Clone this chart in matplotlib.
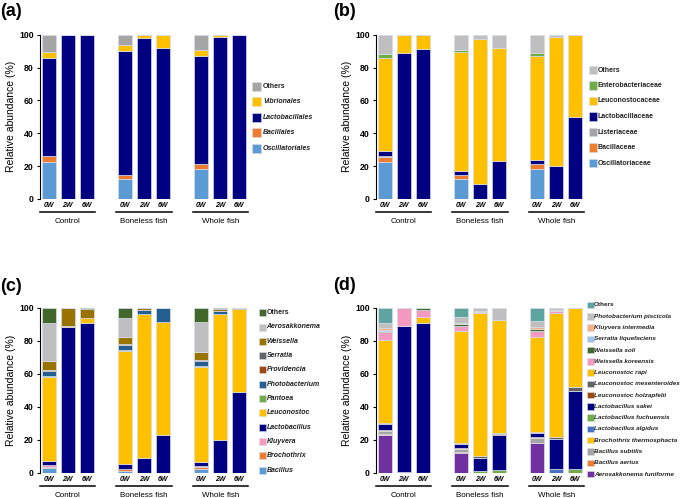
"""Stacked relative-abundance bars for four taxonomic levels (a)-(d)."""

import matplotlib
matplotlib.use("Agg")
import matplotlib.pyplot as plt
from matplotlib.patches import Rectangle

plt.rcParams["font.family"] = ["Liberation Sans", "DejaVu Sans"]

W, H = 685, 498

GROUPS = ["Control", "Boneless fish", "Whole fish"]
WEEKS = ["0W", "2W", "6W"]
# bar order: Control 0W/2W/6W, Boneless 0W/2W/6W, Whole 0W/2W/6W

# ---- (a) order ----
a_names = ["Oscillatoriales", "Bacillales", "Lactobacillales", "Vibrionales", "Others"]
a_colors = ["#5b9bd5", "#ed7d31", "#000080", "#ffc000", "#a5a5a5"]
a_osc = [22.7, 0, 0, 12.0, 0, 0, 18.0, 0, 0]
a_bac = [3.5, 0, 0, 2.6, 0, 0, 3.3, 0, 0]
a_lacto = [59.8, 100, 100, 75.3, 97.8, 91.9, 65.9, 98.6, 99.6]
a_vib = [3.5, 0, 0, 3.6, 2.2, 8.1, 3.5, 1.4, 0.4]
a_other = [10.5, 0, 0, 6.5, 0, 0, 9.3, 0, 0]

# ---- (b) family ----
b_names = ["Oscillatoriaceae", "Bacillaceae", "Listeriaceae", "Lactobacillaceae",
           "Leuconostocaceae", "Enterobacteriaceae", "Others"]
b_colors = ["#5b9bd5", "#ed7d31", "#a5a5a5", "#000080", "#ffc000", "#70ad47", "#bfbfbf"]
b_osc = [22.7, 0, 0, 12.0, 0, 0, 18.3, 0, 0]
b_bac = [3.1, 0, 0, 2.4, 0, 0, 2.8, 0, 0]
b_list = [0.6, 0, 0, 0.3, 0, 0, 0.4, 0, 0]
b_lacto = [2.8, 88.8, 91.1, 2.1, 8.9, 22.9, 2.4, 20.1, 49.7]
b_leuc = [56.8, 11.2, 8.9, 72.9, 88.5, 69.0, 63.3, 78.3, 50.3]
b_entero = [2.0, 0, 0, 1.2, 0, 0, 1.6, 0, 0]
b_other = [12.0, 0, 0, 9.1, 2.6, 8.1, 11.2, 1.6, 0]

# ---- (c) genus ----
c_names = ["Bacillus", "Brochothrix", "Kluyvera", "Lactobacillus", "Leuconostoc",
           "Pantoea", "Photobacterium", "Providencia", "Serratia", "Weissella",
           "Aerosakkonema", "Others"]
c_colors = ["#5b9bd5", "#ed7d31", "#f49ac1", "#000080", "#ffc000", "#70ad47",
            "#255e91", "#9e480e", "#636363", "#997300", "#bfbfbf", "#43682b"]
c_bacillus = [2.6, 0, 0, 1.0, 0, 0, 2.2, 0, 0]
c_broch = [1.0, 0, 0, 1.0, 0, 0, 1.0, 0, 0]
c_kluy = [0.8, 0, 0, 0.5, 0, 0, 1.0, 0, 0]
c_lacto = [2.7, 88.5, 90.5, 2.5, 8.7, 22.8, 2.1, 19.8, 49.1]
c_leuc = [51.2, 0.3, 3.0, 68.9, 87.5, 68.3, 57.9, 76.4, 49.9]
c_pant = [0.3, 0, 0, 0.2, 0, 0, 0.2, 0, 0]
c_photo = [3.0, 0, 0, 3.3, 2.4, 8.9, 3.3, 1.6, 0]
c_provi = [0.4, 0, 0, 0.3, 0, 0, 0.3, 0, 0]
c_serr = [0.5, 0, 0, 0.3, 0, 0, 0.4, 0, 0]
c_weis = [5.1, 11.2, 5.5, 4.0, 1.0, 0, 4.8, 1.4, 1.0]
c_aero = [23.0, 0, 0.5, 12.0, 0, 0, 18.4, 0, 0]
c_other = [9.4, 0, 0.5, 6.0, 0.4, 0, 8.4, 0.8, 0]

# ---- (d) species ----
d_names = ["Aerosakkonema funiforme", "Bacillus aerius", "Bacillus subtilis",
           "Brochothrix thermosphacta", "Lactobacillus algidus",
           "Lactobacillus fuchuensis", "Lactobacillus sakei",
           "Leuconostoc holzapfelii", "Leuconostoc mesenteroides", "Leuconostoc rapi",
           "Weissella koreensis", "Weissella soli", "Serratia liquefaciens",
           "Kluyvera intermedia", "Photobacterium piscicola", "Others"]
d_colors = ["#7030a0", "#ed7d31", "#a5a5a5", "#ffc000", "#4472c4", "#70ad47",
            "#000080", "#9e480e", "#636363", "#ffc000", "#f49ac1", "#43682b",
            "#9dc3e6", "#f4b183", "#bfbfbf", "#5fa59f"]
d_aero = [22.8, 0, 0, 12.1, 0, 0, 17.8, 0, 0]
d_baer = [0.4, 0, 0, 0.5, 0, 0, 0.4, 0, 0]
d_bsub = [2.3, 0, 0, 1.5, 0, 0, 2.6, 0, 0]
d_broch = [0.6, 0, 0, 0.6, 0, 0, 1.0, 0, 0]
d_lalg = [0, 0, 0, 0, 0, 0, 0, 2.0, 0]
d_lfuc = [0, 0.3, 0, 0, 0.8, 1.4, 0, 0.4, 2.0]
d_lsak = [3.2, 88.4, 90.9, 2.7, 8.1, 21.4, 2.4, 17.8, 47.3]
d_lhol = [0.4, 0, 0, 0.2, 0.3, 0.4, 0.3, 0.4, 0.4]
d_lmes = [0.3, 0, 0, 0.3, 1.1, 1.0, 0.3, 1.2, 2.0]
d_lrap = [50.4, 0.3, 3.2, 68.0, 86.7, 68.3, 57.6, 75.2, 47.9]
d_wkor = [4.9, 10.6, 4.5, 3.2, 0.6, 0, 3.5, 1.2, 0]
d_wsol = [0.8, 0.4, 1.0, 0.8, 0, 0, 1.0, 0, 0]
d_serr = [0.4, 0, 0, 0.3, 0, 0, 0.4, 0, 0.4]
d_kluy = [1.0, 0, 0, 0.7, 0.5, 0, 1.2, 0.4, 0]
d_ppis = [3.4, 0, 0, 3.2, 1.9, 7.5, 3.4, 1.4, 0]
d_other = [9.1, 0, 0.4, 5.9, 0, 0, 8.1, 0, 0]

POS = [0, 1, 2, 4, 5, 6, 8, 9, 10]


def frac(x, y, w=0, h=0):
    """pixel box (top-left origin) -> figure fraction rect"""
    return [x / W, 1 - (y + h) / H, w / W, h / H]


def stacked(ax, layers, colors):
    bottom = [0.0] * len(POS)
    for vals, col in zip(layers, colors):
        ax.bar(POS, vals, width=0.735, bottom=bottom, color=col,
               edgecolor="#d8dcea", linewidth=0.5)
        bottom = [b + v for b, v in zip(bottom, vals)]

    ax.set_xlim(-0.46, 10.46)
    ax.set_ylim(0, 100)
    ax.set_yticks(range(0, 101, 20))
    for lab in ax.get_yticklabels():
        lab.set_fontweight("bold")
    ax.tick_params(axis="y", labelsize=6.3, length=2.5, width=0.8, pad=2)
    ax.set_ylabel("Relative abundance (%)", fontsize=7.5, labelpad=2)
    for s in ("top", "right", "bottom"):
        ax.spines[s].set_visible(False)
    ax.spines["left"].set_linewidth(0.8)

    ax.set_xticks(POS)
    ax.set_xticklabels(WEEKS * 3, fontsize=5, fontweight="bold", style="italic")
    ax.tick_params(axis="x", length=0, pad=2.5)

    span = ax.get_position().height * H
    tr = ax.get_xaxis_transform()
    for gi, g in enumerate(GROUPS):
        x0 = POS[gi * 3]
        ax.plot([x0 - 0.45, x0 + 2.45], [-13.3 / span] * 2, color="black",
                lw=1.1, transform=tr, clip_on=False)
        ax.text(x0 + 1, -22.7 / span, g, transform=tr, ha="center", va="center",
                fontsize=5.8)


def key(fig, names, colors, x, y_top, step, box, tx, size, italic_all=True):
    for i, (n, c) in enumerate(zip(names[::-1], colors[::-1])):
        y = y_top + i * step
        fig.patches.append(Rectangle(frac(x, y - box / 2, box, box)[:2],
                                     box / W, box / H, transform=fig.transFigure,
                                     facecolor=c, edgecolor="#d8dcea", lw=0.4))
        it = italic_all and n != "Others"
        fig.text(tx / W, 1 - y / H, n, fontsize=size, fontweight="bold",
                 style="italic" if it else "normal", color="#222222",
                 ha="left", va="center")


def main():
    fig = plt.figure(figsize=(W / 100, H / 100), dpi=100)

    ax_a = fig.add_axes(frac(40, 34.7, 208, 164.3))
    stacked(ax_a, [a_osc, a_bac, a_lacto, a_vib, a_other], a_colors)
    key(fig, a_names, a_colors, 252, 86.3, 15.5, 8.8, 263, 5)

    ax_b = fig.add_axes(frac(376, 34.7, 208, 164.3))
    stacked(ax_b, [b_osc, b_bac, b_list, b_lacto, b_leuc, b_entero, b_other], b_colors)
    key(fig, b_names, b_colors, 588.5, 70, 15.5, 8.5, 598, 5, italic_all=False)

    ax_c = fig.add_axes(frac(40, 307.7, 208, 165))
    stacked(ax_c, [c_bacillus, c_broch, c_kluy, c_lacto, c_leuc, c_pant, c_photo,
                   c_provi, c_serr, c_weis, c_aero, c_other], c_colors)
    key(fig, c_names, c_colors, 258.5, 312.7, 14.3, 7, 266.5, 5)

    ax_d = fig.add_axes(frac(376, 307.7, 208, 165))
    stacked(ax_d, [d_aero, d_baer, d_bsub, d_broch, d_lalg, d_lfuc, d_lsak, d_lhol,
                   d_lmes, d_lrap, d_wkor, d_wsol, d_serr, d_kluy, d_ppis, d_other],
            d_colors)
    key(fig, d_names, d_colors, 587, 305, 11.27, 6.5, 594, 4.6)

    for lab, x, y in [("(a)", 0, 11), ("(b)", 333, 11), ("(c)", 0, 286), ("(d)", 333, 285)]:
        fig.text(x / W, 1 - y / H, lab, fontsize=13, fontweight="bold",
                 ha="left", va="center")

    fig.savefig("out.png", dpi=100)


if __name__ == "__main__":
    main()
